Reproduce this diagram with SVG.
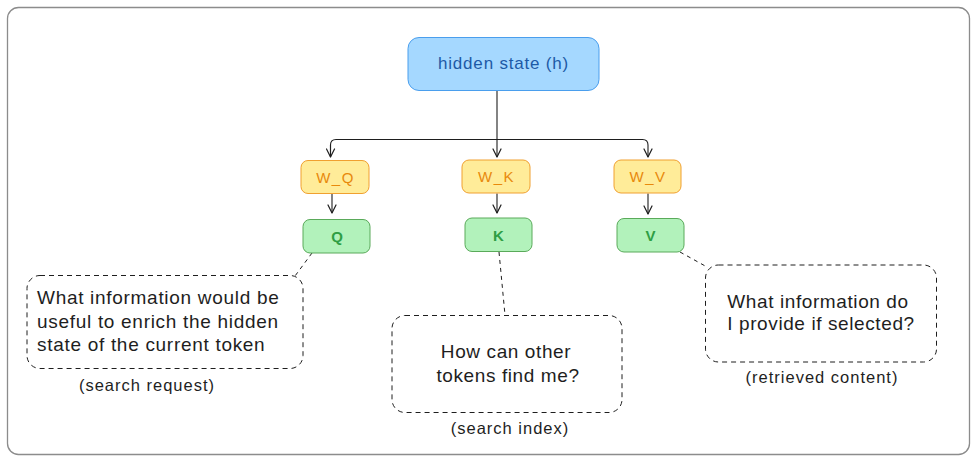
<svg xmlns="http://www.w3.org/2000/svg" width="980" height="463" viewBox="0 0 980 463">
<defs>
<marker id="arr" viewBox="0 0 10 10" refX="9" refY="5" markerWidth="10" markerHeight="10" markerUnits="userSpaceOnUse" orient="auto">
<path d="M1,1 L9,5 L1,9" fill="none" stroke="#1e1e1e" stroke-width="1.2" stroke-linecap="round" stroke-linejoin="round"/>
</marker>
<style>
text{font-family:"Liberation Sans",Arial,sans-serif}
.frame{fill:#ffffff;stroke:#8c8c8c;stroke-width:1.3}
.blue{fill:#a5d8ff;stroke:#4a9eed;stroke-width:1}
.yellow{fill:#ffec99;stroke:#f0a030;stroke-width:1}
.green{fill:#b2f2bb;stroke:#5aaa5a;stroke-width:1}
.note{fill:none;stroke:#1e1e1e;stroke-width:1;stroke-dasharray:5 4}
.link{fill:none;stroke:#1e1e1e;stroke-width:1;stroke-dasharray:4 4}
.arrow{fill:none;stroke:#1e1e1e;stroke-width:1.1}
.tb{fill:#1d5aa6;font-size:17px;letter-spacing:0.8px;text-anchor:middle}
.ty{fill:#e8890c;font-size:15px;letter-spacing:1.5px;text-anchor:middle}
.tg{fill:#2f9e44;font-size:15px;font-weight:bold;text-anchor:middle}
.tn{fill:#1e1e1e;font-size:19px;letter-spacing:0.7px}
.tc{fill:#1e1e1e;font-size:19px;letter-spacing:0.6px;text-anchor:middle}
.ts{fill:#1e1e1e;font-size:16.5px;letter-spacing:1px;text-anchor:middle}
</style>
</defs>
<rect class="frame" x="7.5" y="7.5" width="962" height="447" rx="11"/>

<g id="connectors">
<path class="arrow" d="M497,90 V157" marker-end="url(#arr)"/>
<path class="arrow" d="M330.5,157 V145 Q330.5,139.5 336,139.5 H642.5 Q648,139.5 648,145 V157" marker-end="url(#arr)"/>
<path class="arrow" d="M330.5,145 V157" marker-end="url(#arr)"/>
<path class="arrow" d="M332,193.5 V213" marker-end="url(#arr)"/>
<path class="arrow" d="M497,193.5 V213" marker-end="url(#arr)"/>
<path class="arrow" d="M648,193.5 V214" marker-end="url(#arr)"/>
<path class="link" d="M312,253 L295,276"/>
<path class="link" d="M499,252 L505,315"/>
<path class="link" d="M680,252 L707,267"/>
</g>

<g id="hidden">
<rect class="blue" x="408" y="37.5" width="191" height="53" rx="11"/>
<text class="tb" x="503.5" y="69">hidden state (h)</text>
</g>

<g id="wq">
<rect class="yellow" x="301" y="160.5" width="68" height="33" rx="7"/>
<text class="ty" x="335.5" y="182.5">W_Q</text>
</g>
<g id="wk">
<rect class="yellow" x="462" y="160" width="68" height="33" rx="7"/>
<text class="ty" x="496.5" y="182">W_K</text>
</g>
<g id="wv">
<rect class="yellow" x="614" y="160" width="67" height="33" rx="7"/>
<text class="ty" x="648" y="182">W_V</text>
</g>

<g id="q">
<rect class="green" x="303" y="219.5" width="67" height="33.5" rx="7"/>
<text class="tg" x="337" y="241.5">Q</text>
</g>
<g id="k">
<rect class="green" x="465" y="218" width="67" height="33.5" rx="7"/>
<text class="tg" x="498.5" y="240.5">K</text>
</g>
<g id="v">
<rect class="green" x="617" y="218.5" width="67" height="33.5" rx="7"/>
<text class="tg" x="650.5" y="241">V</text>
</g>

<g id="note-q">
<rect class="note" x="27" y="275.5" width="276" height="93" rx="13"/>
<text class="tn" x="37" y="304">What information would be</text>
<text class="tn" x="37" y="327.5">useful to enrich the hidden</text>
<text class="tn" x="37" y="351">state of the current token</text>
<text class="ts" x="147" y="391">(search request)</text>
</g>

<g id="note-k">
<rect class="note" x="392" y="315.5" width="230" height="97" rx="13"/>
<text class="tc" x="506" y="358">How can other</text>
<text class="tc" x="508" y="382">tokens find me?</text>
<text class="ts" x="510" y="434">(search index)</text>
</g>

<g id="note-v">
<rect class="note" x="705.5" y="265" width="231" height="97" rx="13"/>
<text class="tc" x="818" y="308">What information do</text>
<text class="tc" x="821" y="330">I provide if selected?</text>
<text class="ts" x="822" y="383">(retrieved content)</text>
</g>
</svg>
